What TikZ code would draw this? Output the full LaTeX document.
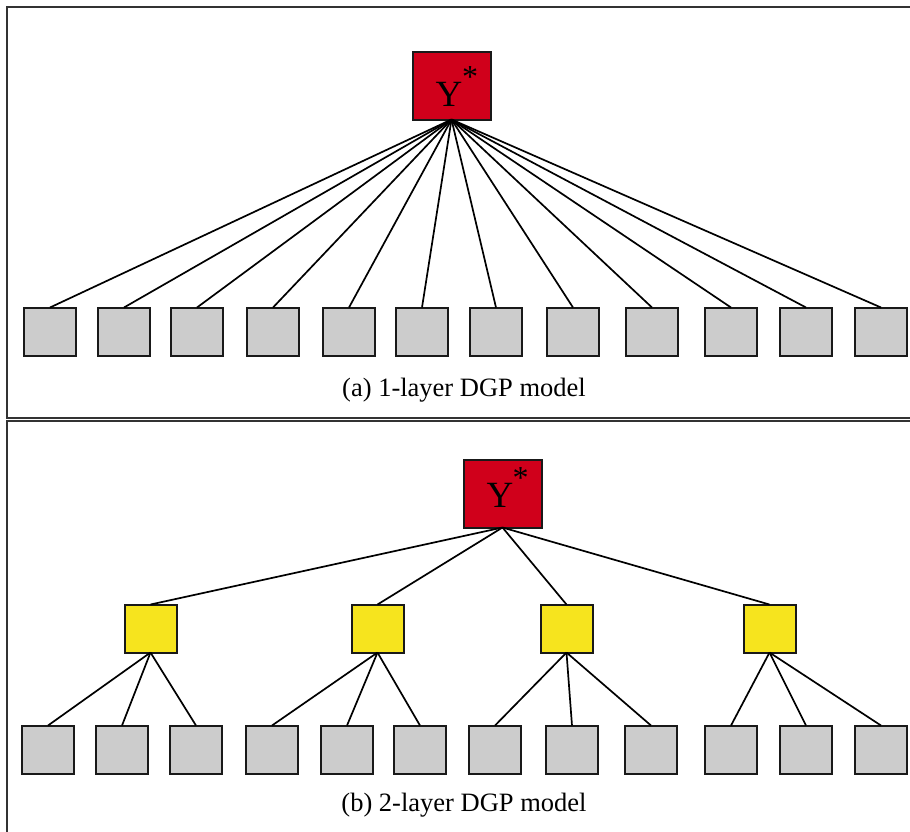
\documentclass[tikz,border=0pt]{standalone}
\usepackage{fontspec}
\setmainfont{Liberation Serif}
\definecolor{rootred}{RGB}{208,0,27}
\definecolor{midyellow}{RGB}{246,228,30}
\definecolor{leafgray}{RGB}{204,204,204}
\begin{document}
\begin{tikzpicture}[x=1pt,y=-1pt,
  box/.style={draw=black!90,line width=2pt,minimum width=52pt,minimum height=48pt,inner sep=0pt,outer sep=0pt},
  leaf/.style={box,fill=leafgray},
  mid/.style={box,fill=midyellow},
  root/.style={box,fill=rootred,minimum width=78pt,minimum height=68pt},
  edge/.style={line width=1.7pt,black},
  panel/.style={line width=1.6pt,black!80},
  ylabel/.style={font=\fontsize{37}{37}\selectfont,inner sep=0pt,anchor=base},
  star/.style={font=\fontsize{32}{32}\selectfont,inner sep=0pt,anchor=base},
  caption/.style={font=\fontsize{26.5}{30}\selectfont,inner sep=0pt}]
\useasboundingbox (0,0) rectangle (910,831);

% panel frames (open on the right and at the bottom)
\draw[panel] (913,7) -- (7,7) -- (7,418) -- (913,418);
\draw[panel] (913,421) -- (7,421) -- (7,834);

% ---- (a) one layer ----
\node[root] (ra) at (451.5,85.5) {};
\node[ylabel] (ya) at (449,106) {Y};
\node[star] (sa) at (470,87) {*};
\foreach \i/\x in {1/24,2/98,3/171,4/247,5/323,6/396,7/470,8/547,9/626,10/705,11/780,12/855}{
  \node[leaf] (a\i) at (\x+26,331.5) {};
  \draw[edge] (ra.south) -- (a\i.north);
}
\node[caption] (ca) at (464,390) {(a) 1-layer DGP model};

% ---- (b) two layers ----
\node[root] (rb) at (502.5,493.5) {};
\node[ylabel] (yb) at (500,507) {Y};
\node[star] (sb) at (520.5,488.5) {*};
\foreach \j/\x in {1/124,2/351,3/540,4/743}{
  \node[mid] (m\j) at (\x+26.5,628.5) {};
  \draw[edge] (rb.south) -- (m\j.north);
}
\foreach \i/\x/\p in {1/22/1,2/96/1,3/170/1,4/246/2,5/321/2,6/394/2,7/469/3,8/546/3,9/625/3,10/705/4,11/780/4,12/855/4}{
  \node[leaf] (b\i) at (\x+26,749.5) {};
  \draw[edge] (m\p.south) -- (b\i.north);
}
\node[caption] (cb) at (464,805) {(b) 2-layer DGP model};
\end{tikzpicture}
\end{document}
